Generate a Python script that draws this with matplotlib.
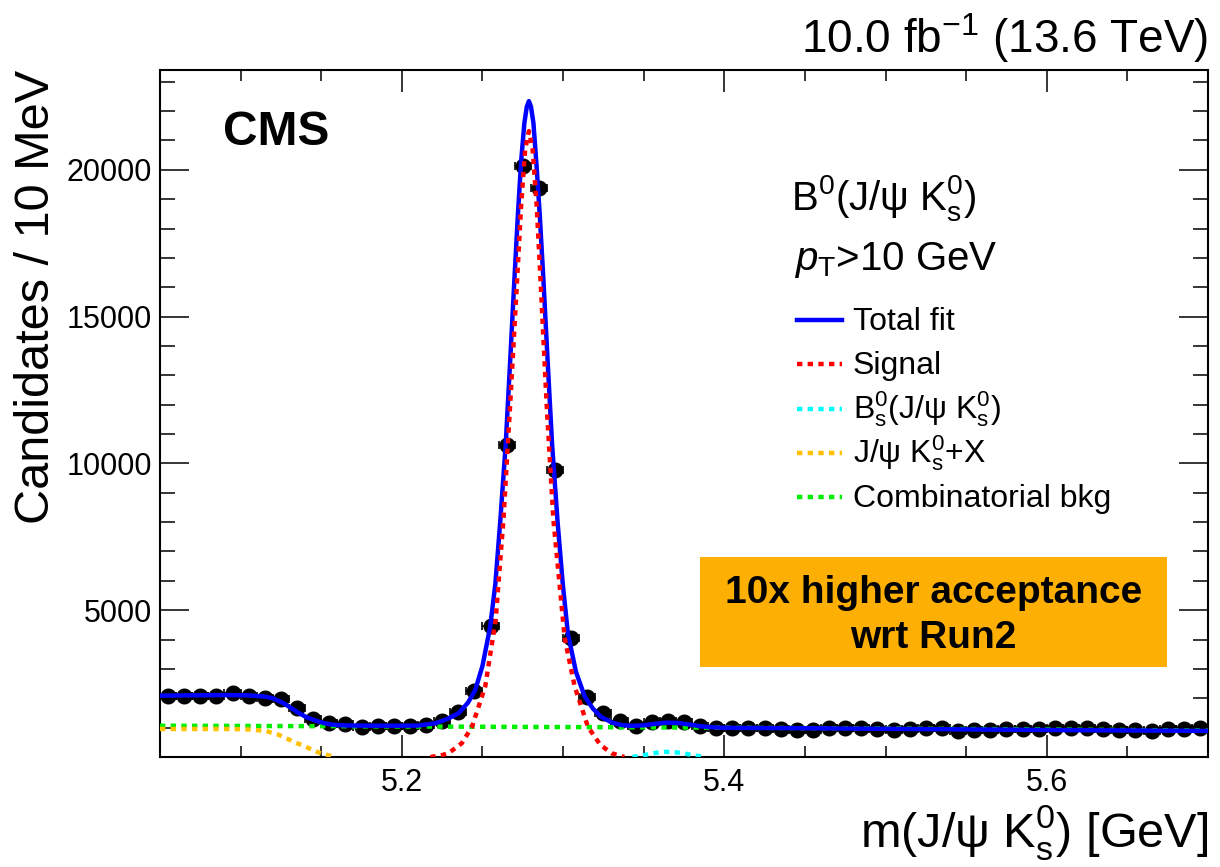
import numpy as np
import matplotlib
matplotlib.use("Agg")
import matplotlib.pyplot as plt
from matplotlib.lines import Line2D
from matplotlib.patches import Rectangle
from matplotlib.ticker import MultipleLocator, FixedLocator

plt.rcParams["font.family"] = ["Liberation Sans", "DejaVu Sans"]
plt.rcParams["mathtext.fontset"] = "custom"
plt.rcParams["mathtext.rm"] = "Liberation Sans"
plt.rcParams["mathtext.it"] = "Liberation Sans:italic"
plt.rcParams["mathtext.bf"] = "Liberation Sans:bold"

# data: candidates per 10 MeV bin (bin centres)
bin_centers = np.round(np.arange(5.055, 5.70, 0.01), 3)
counts = [2080, 2080, 2080, 2090, 2170, 2080, 2020, 1990, 1680, 1285,
          1170, 1115, 1035, 1057, 1057, 1057, 1080, 1227, 1523, 2260,
          4470, 10640, 20120, 19390, 9785, 4060, 2060, 1490, 1240, 1057,
          1180, 1227, 1200, 1057, 1000, 980, 980, 980, 960, 920,
          920, 980, 980, 977, 943, 920, 943, 977, 977, 898,
          920, 920, 943, 943, 943, 977, 1000, 977, 943, 920,
          920, 898, 943, 943, 1000]

# total fit
fit_x = [5.050, 5.070, 5.090, 5.105, 5.115, 5.120, 5.126, 5.131, 5.136, 5.141,
         5.147, 5.152, 5.157, 5.165, 5.180, 5.200, 5.210, 5.2208, 5.228, 5.2352,
         5.2410, 5.2455, 5.2500, 5.2548, 5.2580, 5.2610, 5.2644, 5.2670, 5.2698, 5.2720,
         5.2740, 5.2760, 5.2775, 5.2788, 5.2801, 5.2816, 5.2836, 5.2856, 5.2878, 5.2906,
         5.2932, 5.2966, 5.2998, 5.3030, 5.3080, 5.3134, 5.3185, 5.3235, 5.3300, 5.3360,
         5.3430, 5.3500, 5.3570, 5.3640, 5.3710, 5.3780, 5.3850, 5.3930, 5.4000, 5.4500,
         5.5000, 5.5500, 5.6000, 5.6500, 5.7000]
fit_y = [2090, 2100, 2110, 2100, 2060, 2000, 1850, 1680, 1500, 1350,
         1230, 1150, 1100, 1075, 1065, 1065, 1070, 1150, 1290, 1490,
         1850, 2280, 3100, 4440, 5900, 8000, 10640, 13300, 16260, 18500,
         20300, 21600, 22150, 22340, 22150, 21600, 20100, 18400, 16260, 13300,
         10640, 8000, 5900, 4200, 2900, 2060, 1650, 1370, 1180, 1090,
         1060, 1080, 1130, 1170, 1160, 1110, 1050, 1010, 995, 980,
         960, 940, 920, 905, 890]

# components
sig_x = [5.2177, 5.2240, 5.2290, 5.2372, 5.2435, 5.2517, 5.2582, 5.2630, 5.2675, 5.2715,
         5.2740, 5.2765, 5.2788, 5.2811, 5.2836, 5.2860, 5.2900, 5.2940, 5.3010, 5.3072,
         5.3154, 5.3230, 5.3300, 5.3380]
sig_y = [0, 50, 130, 470, 1030, 2400, 4670, 8080, 12300, 16260,
         18800, 20700, 21320, 20700, 18800, 16260, 11800, 8080, 4050, 2400,
         1030, 420, 130, 0]

bs_x = [5.343, 5.348, 5.353, 5.358, 5.363, 5.368, 5.373, 5.378, 5.383, 5.388]
bs_y = [0, 40, 95, 145, 175, 170, 140, 90, 40, 0]

jpsix_x = [5.050, 5.090, 5.100, 5.108, 5.116, 5.124, 5.132, 5.141, 5.149, 5.155, 5.159]
jpsix_y = [955, 955, 950, 930, 880, 750, 540, 330, 140, 50, 0]

comb_x = [5.05, 5.15, 5.25, 5.35, 5.45, 5.55, 5.65, 5.70]
comb_y = [1065, 1050, 1030, 1010, 985, 955, 920, 900]

W, H = 1220, 867
fig = plt.figure(figsize=(W / 100, H / 100), dpi=100)
ax = fig.add_axes([160 / W, 1 - 757 / H, 1048 / W, 687 / H])

ax.errorbar(bin_centers, counts, xerr=0.005, yerr=np.sqrt(counts), fmt="o", color="black",
            ms=10.5, elinewidth=1.2, capsize=3, capthick=1.2, zorder=2)

dot = (0, (1.2, 1.2))
ax.plot(comb_x, comb_y, color="#00ee00", lw=3.2, ls=dot, zorder=3)
ax.plot(jpsix_x, jpsix_y, color="#ffc000", lw=3.2, ls=dot, zorder=3)
ax.plot(bs_x, bs_y, color="#00ffff", lw=3.2, ls=dot, zorder=3)
ax.plot(fit_x, fit_y, color="#0000ff", lw=3.2, zorder=4)
ax.plot(sig_x, sig_y, color="#ff0000", lw=3.2, ls=dot, zorder=5)

ax.set_xlim(5.05, 5.70)
ax.set_ylim(0, 23400)
ax.xaxis.set_major_locator(FixedLocator([5.2, 5.4, 5.6]))
ax.xaxis.set_minor_locator(MultipleLocator(0.05))
ax.yaxis.set_major_locator(FixedLocator([5000, 10000, 15000, 20000]))
ax.yaxis.set_minor_locator(MultipleLocator(1000))
ax.set_xticklabels(["5.2", "5.4", "5.6"])
ax.set_yticklabels(["5000", "10000", "15000", "20000"])
ax.tick_params(axis="both", which="both", direction="in", top=True, right=True,
               labelsize=22, width=1.1)
ax.tick_params(axis="x", which="major", length=16, pad=8)
ax.tick_params(axis="x", which="minor", length=8)
ax.tick_params(axis="y", which="major", length=21, pad=6)
ax.tick_params(axis="y", which="minor", length=11)
for s in ax.spines.values():
    s.set_linewidth(1.5)

fig.text(37 / W, 1 - 70 / H, "Candidates / 10 MeV", rotation=90, ha="center", va="top", fontsize=35)
fig.text(1208 / W, 1 - 847 / H, r"m(J/ψ $\mathrm{K}^0_\mathrm{s}$) [GeV]", ha="right",
         va="baseline", fontsize=35)
fig.text(1208 / W, 1 - 53 / H, r"10.0 $\mathrm{fb}^{-1}$ (13.6 TeV)", ha="right",
         va="baseline", fontsize=33)
fig.text(223 / W, 1 - 145 / H, "CMS", fontsize=34.5, fontweight="bold", va="baseline")

fig.text(791 / W, 1 - 210 / H, r"$\mathrm{B}^0$(J/ψ $\mathrm{K}^0_\mathrm{s}$)", fontsize=29, va="baseline")
fig.text(794 / W, 1 - 270 / H, r"$p_\mathrm{T}$>10 GeV", fontsize=29, va="baseline")

leg_labels = ["Total fit", "Signal", r"$\mathrm{B}^0_\mathrm{s}$(J/ψ $\mathrm{K}^0_\mathrm{s}$)",
              r"J/ψ $\mathrm{K}^0_\mathrm{s}$+X", "Combinatorial bkg"]
leg_colors = ["#0000ff", "#ff0000", "#00ffff", "#ffc000", "#00ee00"]
leg_styles = ["-", dot, dot, dot, dot]
for i, (lab, col, st) in enumerate(zip(leg_labels, leg_colors, leg_styles)):
    yl = 320 + 44.3 * i
    fig.add_artist(Line2D([797 / W, 842 / W], [1 - yl / H] * 2, color=col, lw=3.2, ls=st))
    fig.text(853 / W, 1 - (yl + 10) / H, lab, fontsize=23, va="baseline")

fig.add_artist(Rectangle((700 / W, 1 - 667 / H), 467 / W, 110 / H, transform=fig.transFigure,
                         facecolor="#fdaf03", edgecolor="none"))
fig.text(933.5 / W, 1 - 603 / H, "10x higher acceptance", ha="center", va="baseline",
         fontsize=28, fontweight="bold")
fig.text(933.5 / W, 1 - 648 / H, "wrt Run2", ha="center", va="baseline",
         fontsize=28, fontweight="bold")

fig.savefig("out.png", dpi=100)
